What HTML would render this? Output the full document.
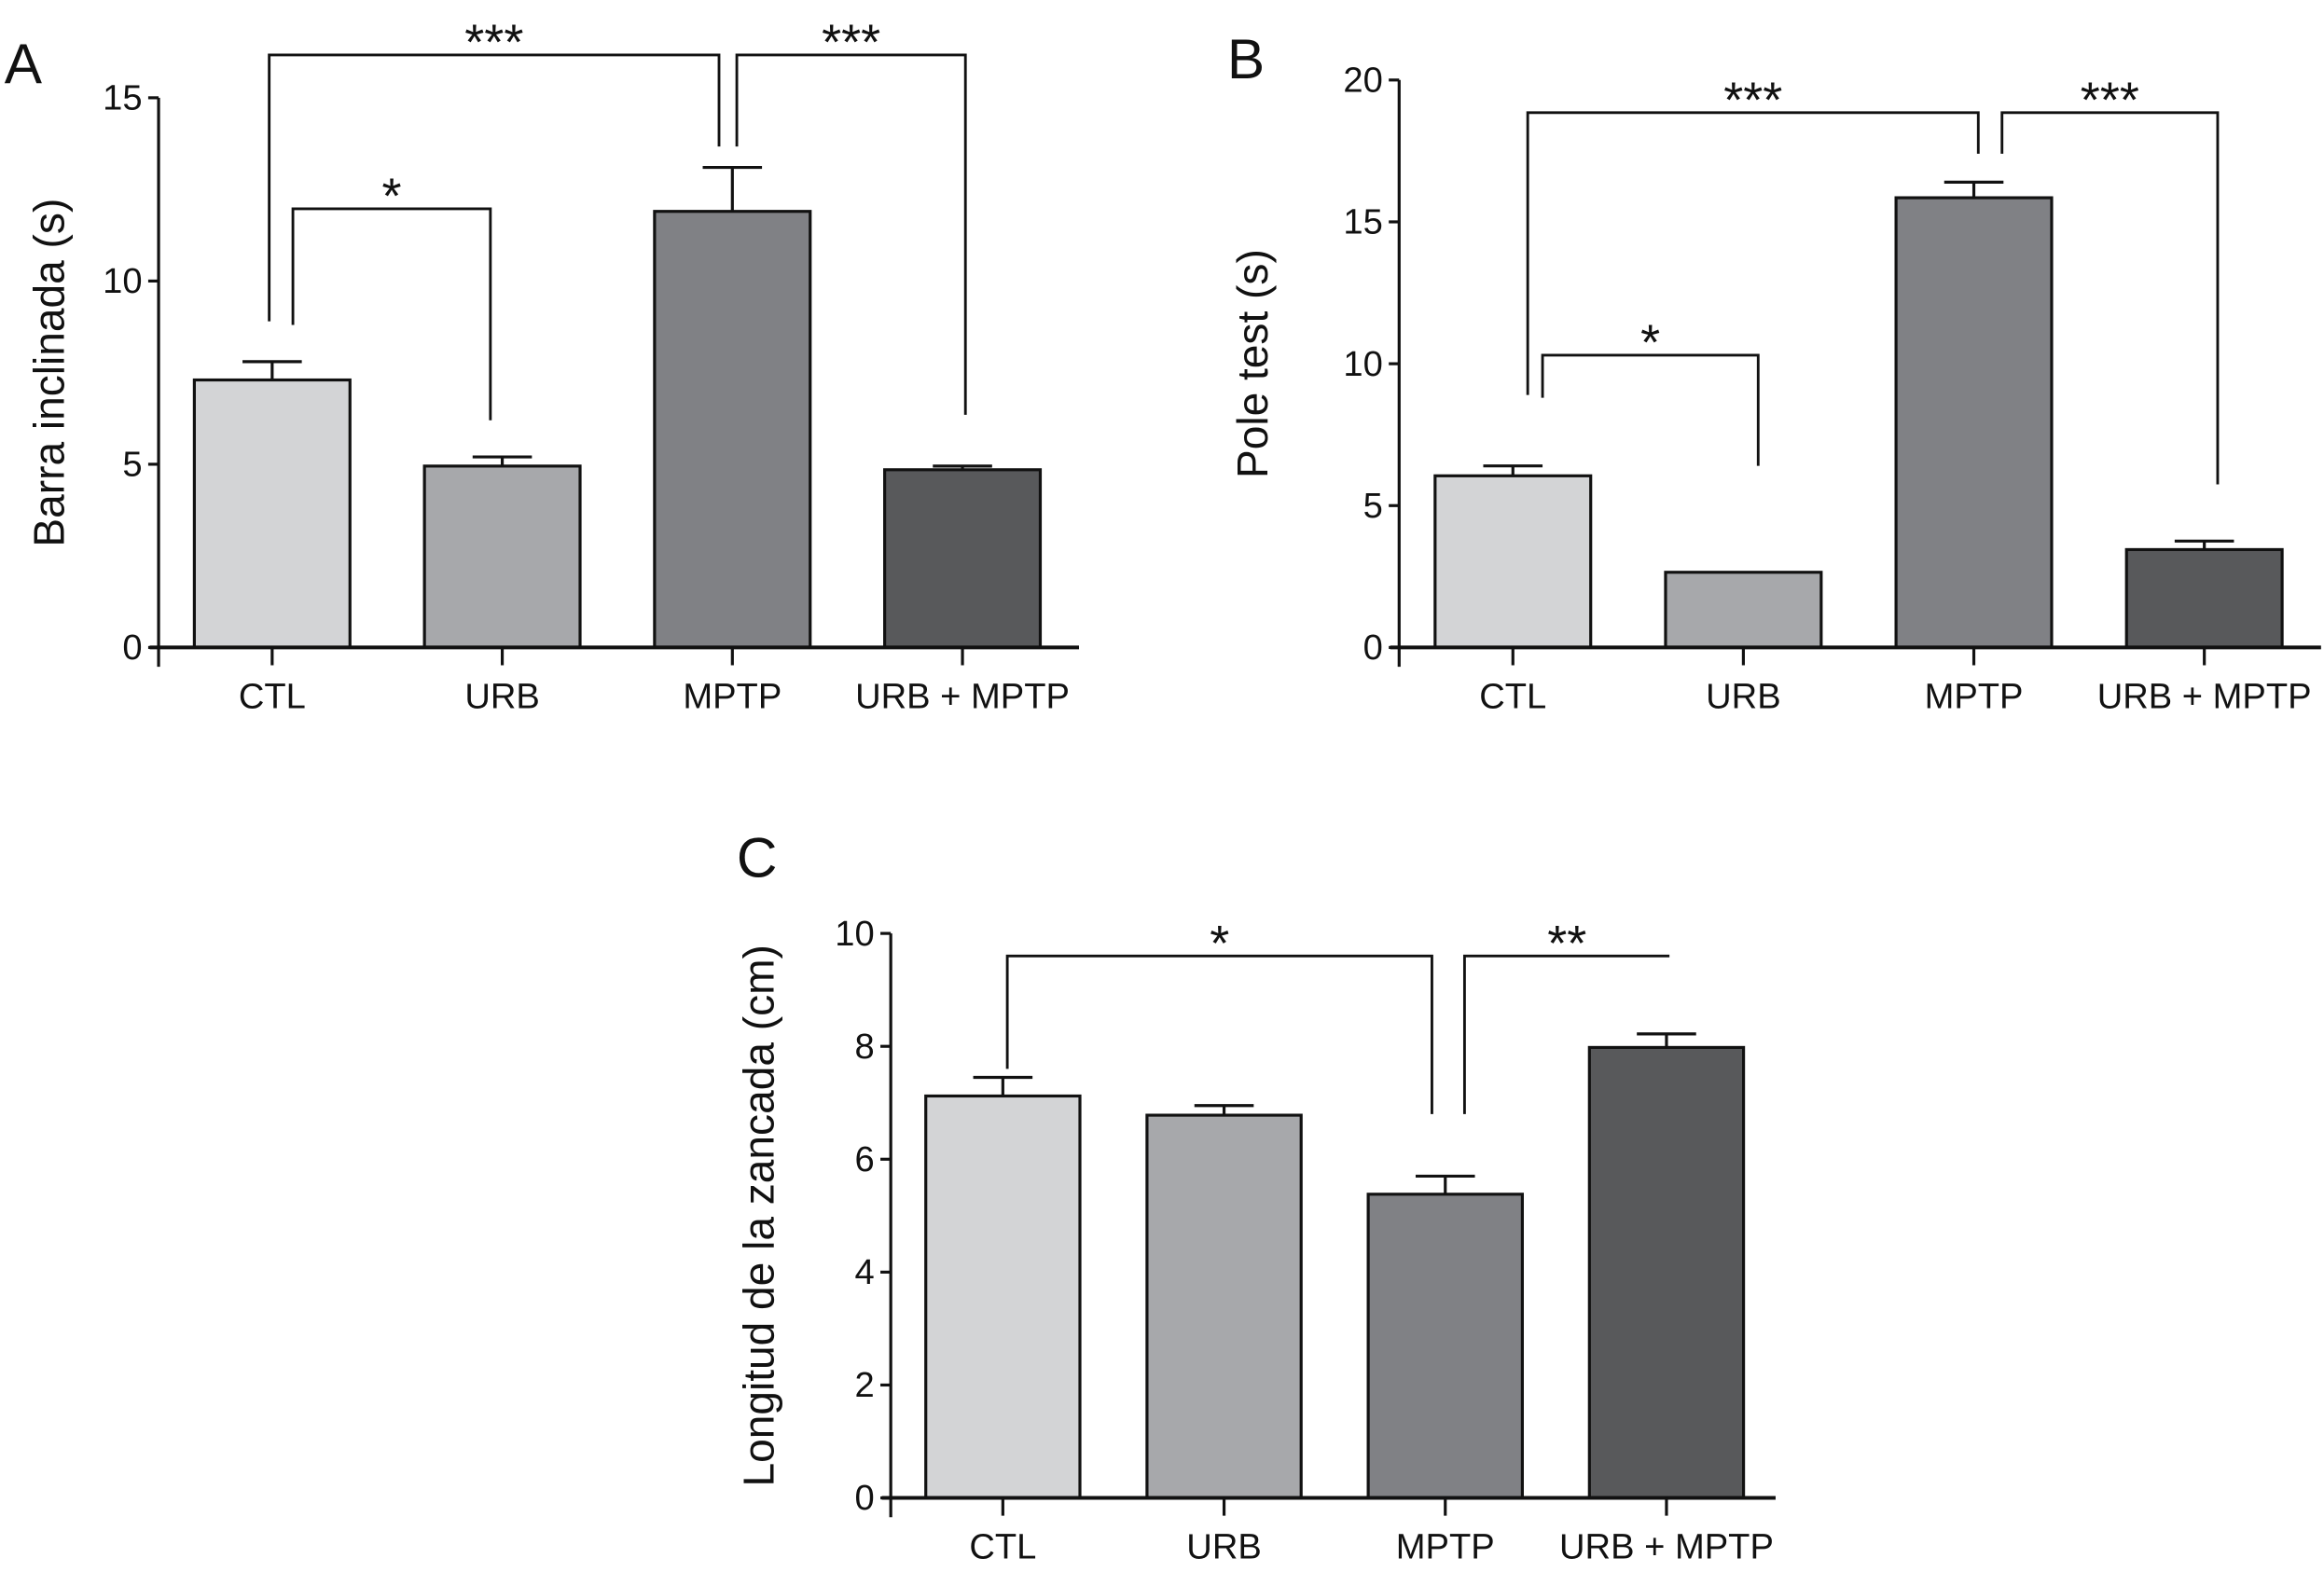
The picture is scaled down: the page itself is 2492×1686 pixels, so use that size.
<!DOCTYPE html>
<html><head><meta charset="utf-8"><style>
html,body{margin:0;padding:0;background:#fff;}
svg{display:block;}
text{font-family:"Liberation Sans Narrow","Liberation Sans",sans-serif;fill:#111;}
</style></head>
<body>
<svg id="fig" width="2492" height="1686" viewBox="0 0 1568 1061" preserveAspectRatio="none" xmlns="http://www.w3.org/2000/svg"></svg>
<script>
const categories = ["CTL","URB","MPTP","URB + MPTP"];
const colors = ["#d3d4d6","#a7a8ab","#808185","#58595b"];
// Panel A
const valuesA = [7.3, 4.95, 11.9, 4.85];
const errorsA = [0.5, 0.25, 1.2, 0.1];
const ticksA = [0, 5, 10, 15];
// Panel B
const valuesB = [6.05, 2.65, 15.85, 3.45];
const errorsB = [0.35, 0, 0.55, 0.3];
const ticksB = [0, 5, 10, 15, 20];
// Panel C
const valuesC = [7.12, 6.78, 5.38, 7.98];
const errorsC = [0.33, 0.17, 0.32, 0.24];
const ticksC = [0, 2, 4, 6, 8, 10];
// brackets: [fromIdx, toIdx, topValue, leftLegValue, rightLegValue, label, leftOffset, rightOffset]
const bracketsA = [[0,2,16.17,8.9,13.67,"***",-2,-9],[2,3,16.17,13.67,6.35,"***",3,2],[0,1,11.97,8.8,6.2,"*",14,-8]];
const bracketsB = [[0,2,18.85,8.9,17.4,"***",10,3],[2,3,18.85,17.4,5.75,"***",19,9],[0,1,10.3,8.8,6.4,"*",20,10]];
const bracketsC = [[0,2,9.6,7.6,6.8,"*",3,-9],[2,3,9.6,6.8,9.6,"**",13,2]];

const NS="http://www.w3.org/2000/svg";
const svg=document.getElementById('fig');
function el(tag, attrs, parent){const e=document.createElementNS(NS,tag);for(const k in attrs)e.setAttribute(k,attrs[k]);(parent||svg).appendChild(e);return e;}

function panel(cfg){
  const g=el('g',{});
  
  
  const y=v=>cfg.y0-(v-0)*(cfg.y0-cfg.yTop)/cfg.max;
  const step=(cfg.xEnd-cfg.ax)/4;
  const cx=i=>cfg.ax+step*(i+0.5)+cfg.shift;
  const bw=cfg.bw;
  const L=el('text',{x:cfg.letterX,y:cfg.letterY,'font-size':38,'font-family':'Liberation Sans, sans-serif'},g);
  L.textContent=cfg.id;
  
  
  cfg.values.forEach((v,i)=>{
    const r=el('rect',{x:cx(i)-bw/2,y:y(v),width:bw,height:cfg.y0-y(v),fill:colors[i],stroke:'#111','stroke-width':2},g);
    
    
    const e=cfg.errors[i];
    if(e>0){
      const eb=el('path',{d:`M${cx(i)} ${y(v)} V${y(v+e)} M${cx(i)-20} ${y(v+e)} H${cx(i)+20}`,stroke:'#111','stroke-width':2,fill:'none'},g);
      
      
    }
  });
  const ya=el('path',{d:`M${cfg.ax} ${y(cfg.max)} V${cfg.y0+13}`,stroke:'#111','stroke-width':2,fill:'none'},g);
  
  
  const xa=el('path',{d:`M${cfg.ax-6} ${cfg.y0} H${cfg.xEnd}`,stroke:'#111','stroke-width':2.5,fill:'none'},g);
  
  
  cfg.ticks.forEach(t=>{
    const tk=el('path',{d:`M${cfg.ax-7} ${y(t)} H${cfg.ax}`,stroke:'#111','stroke-width':2},g);
    
    
    const tl=el('text',{x:cfg.ax-11,y:y(t)+8,'font-size':24,'text-anchor':'end'},g);
    tl.textContent=t;
    
    
  });
  categories.forEach((c,i)=>{
    const tk=el('path',{d:`M${cx(i)} ${cfg.y0} V${cfg.y0+12}`,stroke:'#111','stroke-width':2},g);
    
    
    const tl=el('text',{x:cx(i),y:cfg.y0+41,'font-size':24,'text-anchor':'middle'},g);
    tl.textContent=c;
    
    
  });
  const tx=cfg.titleX, ty=(cfg.y0+y(cfg.max))/2;
  const tt=el('text',{x:tx,y:ty,'font-size':29,'text-anchor':'middle','font-family':'Liberation Sans, sans-serif',transform:`rotate(-90 ${tx} ${ty})`},g);
  tt.textContent=cfg.title;
  
  
  cfg.brackets.forEach(b=>{
    const x1=cx(b[0])+b[6], x2=cx(b[1])+b[7];
    const p=el('path',{d:`M${x1} ${y(b[3])} V${y(b[2])} H${x2} V${y(b[4])}`,stroke:'#111','stroke-width':1.8,fill:'none'},g);
    
    
    const s=el('text',{x:(x1+x2)/2,y:y(b[2])+3,'font-size':34,'text-anchor':'middle','font-family':'Liberation Serif, serif'},g);
    s.textContent=b[5];
    
    
  });
}
panel({id:'A',values:valuesA,errors:errorsA,ticks:ticksA,max:15,y0:437,yTop:66,ax:107,xEnd:728,shift:-1,bw:105,
  title:'Barra inclinada (s)',titleX:43,letterX:3,letterY:56,brackets:bracketsA});
panel({id:'B',values:valuesB,errors:errorsB,ticks:ticksB,max:20,y0:437,yTop:54,ax:944,xEnd:1566,shift:-1,bw:105,
  title:'Pole test (s)',titleX:855,letterX:828,letterY:53,brackets:bracketsB});
panel({id:'C',values:valuesC,errors:errorsC,ticks:ticksC,max:10,y0:1011,yTop:630,ax:601,xEnd:1198,shift:1,bw:104,
  title:'Longitud de la zancada (cm)',titleX:522,letterX:497,letterY:592,brackets:bracketsC});
</script>
</body></html>
